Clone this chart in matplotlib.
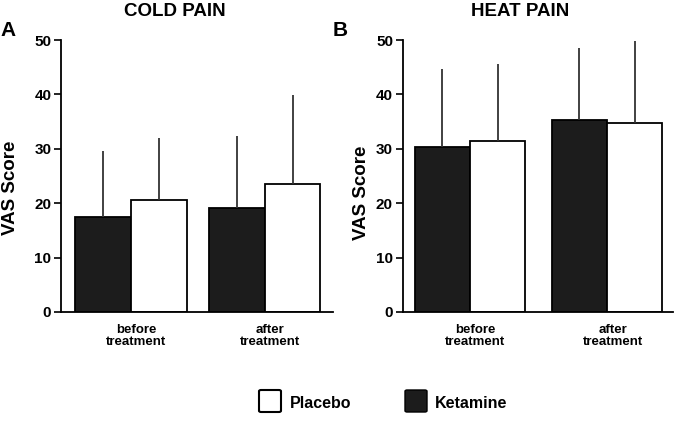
import matplotlib.pyplot as plt
import matplotlib.patches as mpatches
import numpy as np

plt.rcParams['font.family'] = ['Liberation Sans', 'DejaVu Sans']
plt.rcParams['font.weight'] = 'bold'

# VAS scores (means and upper SD)
groups = ['before\ntreatment', 'after\ntreatment']
cold_ketamine = [17.5, 19.2]
cold_ketamine_sd = [12.1, 13.1]
cold_placebo = [20.5, 23.6]
cold_placebo_sd = [11.5, 16.2]
heat_ketamine = [30.3, 35.3]
heat_ketamine_sd = [14.3, 13.2]
heat_placebo = [31.5, 34.7]
heat_placebo_sd = [14.1, 15.2]

dark = '#1c1c1c'
fig = plt.figure(figsize=(6.74, 4.32), dpi=100)
ax_a = fig.add_axes([0.0905, 0.2778, 0.4035, 0.6296])
ax_b = fig.add_axes([0.5975, 0.2778, 0.4010, 0.6296])


def draw_panel(ax, ket, ket_sd, pla, pla_sd, width, xlim, label_x, label_y):
    x = np.arange(len(groups))
    ax.bar(x - width / 2, ket, width, color=dark, edgecolor='black', linewidth=1.3,
           yerr=[np.zeros(len(ket)), ket_sd], error_kw=dict(ecolor='#333333', elinewidth=1.3, capsize=0))
    ax.bar(x + width / 2, pla, width, color='white', edgecolor='black', linewidth=1.3,
           yerr=[np.zeros(len(pla)), pla_sd], error_kw=dict(ecolor='#333333', elinewidth=1.3, capsize=0))
    ax.set_ylim(0, 50)
    ax.set_xlim(*xlim)
    ax.set_yticks([0, 10, 20, 30, 40, 50])
    ax.set_xticks(x + 0.04)
    ax.set_xticklabels(groups, fontsize=9.5, linespacing=1.0)
    ax.tick_params(axis='x', length=0, pad=9)
    ax.tick_params(axis='y', length=5, width=1.2, labelsize=11, pad=2)
    for lbl in ax.get_yticklabels() + ax.get_xticklabels():
        lbl.set_fontweight('bold')
    ax.spines['top'].set_visible(False)
    ax.spines['right'].set_visible(False)
    ax.spines['left'].set_linewidth(1.3)
    ax.spines['bottom'].set_linewidth(1.3)
    ax.set_ylabel('VAS Score', fontsize=13.5, fontweight='bold')
    ax.yaxis.set_label_coords(label_x, label_y)


draw_panel(ax_a, cold_ketamine, cold_ketamine_sd, cold_placebo, cold_placebo_sd, 0.417, (-0.52, 1.51), -0.155, 0.455)
draw_panel(ax_b, heat_ketamine, heat_ketamine_sd, heat_placebo, heat_placebo_sd, 0.403, (-0.49, 1.48), -0.121, 0.44)

fig.text(175 / 674, 1 - 12 / 432, 'COLD PAIN', ha='center', va='center', fontsize=13.5, fontweight='bold')
fig.text(520 / 674, 1 - 12 / 432, 'HEAT PAIN', ha='center', va='center', fontsize=13.5, fontweight='bold')
fig.text(0 / 674, 1 - 30 / 432, 'A', ha='left', va='center', fontsize=15, fontweight='bold')
fig.text(333 / 674, 1 - 30 / 432, 'B', ha='left', va='center', fontsize=15, fontweight='bold')

# legend
fig.patches.append(mpatches.FancyBboxPatch((259 / 674, 1 - 412 / 432), 22 / 674, 22 / 432,
                                           boxstyle='round,pad=0,rounding_size=0.003',
                                           transform=fig.transFigure, facecolor='white',
                                           edgecolor='black', linewidth=1.5))
fig.text(290 / 674, 1 - 403 / 432, 'Placebo', ha='left', va='center', fontsize=11.5, fontweight='bold')
fig.patches.append(mpatches.FancyBboxPatch((405 / 674, 1 - 412 / 432), 22 / 674, 22 / 432,
                                           boxstyle='round,pad=0,rounding_size=0.003',
                                           transform=fig.transFigure, facecolor=dark,
                                           edgecolor='black', linewidth=1.0))
fig.text(435 / 674, 1 - 404 / 432, 'Ketamine', ha='left', va='center', fontsize=11.5, fontweight='bold')

fig.savefig('out.png', dpi=100)
